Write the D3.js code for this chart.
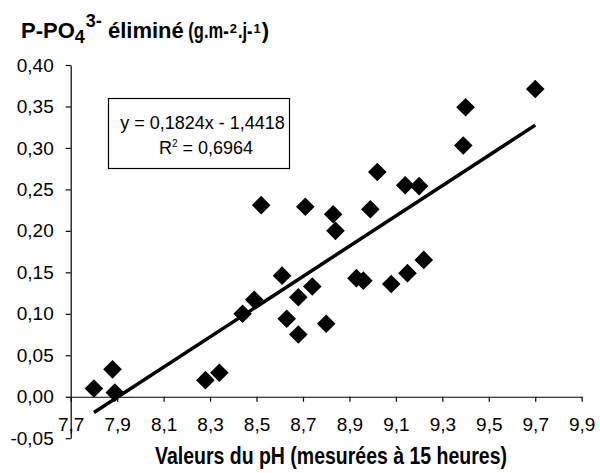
<!DOCTYPE html>
<html>
<head>
<meta charset="utf-8">
<script src="https://cdn.jsdelivr.net/npm/d3@7"></script>
<style>
  html, body { margin: 0; padding: 0; background: #fff; }
  svg { display: block; font-family: "Liberation Sans", Arial, Helvetica, sans-serif; }
</style>
</head>
<body>
<svg id="chart" width="600" height="473"></svg>
<script>
// ---- data ----
const phValues = [7.80, 7.88, 7.89, 8.28, 8.34, 8.44, 8.49, 8.52, 8.61, 8.63,
                  8.68, 8.68, 8.71, 8.74, 8.80, 8.83, 8.84, 8.93, 8.96, 8.99,
                  9.02, 9.08, 9.14, 9.15, 9.20, 9.22, 9.39, 9.40, 9.70];
const pRemoved = [0.010, 0.033, 0.005, 0.020, 0.029, 0.100, 0.117, 0.231, 0.146, 0.094,
                  0.120, 0.075, 0.229, 0.133, 0.088, 0.220, 0.200, 0.143, 0.140, 0.226,
                  0.271, 0.136, 0.255, 0.149, 0.254, 0.165, 0.303, 0.349, 0.371];
const trendSlope = 0.1824;
const trendIntercept = -1.4418;
const equationText = "y = 0,1824x - 1,4418";
const r2Value = "0,6964";
const xTickValues = [7.7, 7.9, 8.1, 8.3, 8.5, 8.7, 8.9, 9.1, 9.3, 9.5, 9.7, 9.9];
const xTickLabels = ["7,7", "7,9", "8,1", "8,3", "8,5", "8,7", "8,9", "9,1", "9,3", "9,5", "9,7", "9,9"];
const yTickValues = [-0.05, 0, 0.05, 0.10, 0.15, 0.20, 0.25, 0.30, 0.35, 0.40];
const yTickLabels = ["-0,05", "0,00", "0,05", "0,10", "0,15", "0,20", "0,25", "0,30", "0,35", "0,40"];
const xAxisTitle = "Valeurs du pH (mesurées à 15 heures)";
// title pieces: text, font size, baseline shift, horizontal squeeze
const titlePieces = [
  { t: "P-PO", fs: 22, dy: 0, sq: 1 },
  { t: "4", fs: 18, dy: 5, sq: 1 },
  { t: "3-", fs: 18, dy: -11, sq: 1, gap: 1 },
  { t: " éliminé", fs: 22, dy: 0, sq: 1 },
  { t: " (g.m-", fs: 22, dy: 0, sq: 0.75 },
  { t: "2", fs: 13, dy: -4.5, sq: 1, gap: 1 },
  { t: ".j-", fs: 22, dy: 0, sq: 0.75, gap: 1 },
  { t: "1", fs: 13, dy: -4.5, sq: 1, gap: 1 },
  { t: ")", fs: 22, dy: 0, sq: 1, gap: 1 }
];

// ---- layout ----
const svg = d3.select("#chart");
const x = d3.scaleLinear().domain([7.7, 9.9]).range([70.7, 581.7]);
const y = d3.scaleLinear().domain([-0.05, 0.40]).range([438.2, 65]);

// y axis
const yAxis = d3.axisLeft(y)
  .tickValues(yTickValues)
  .tickFormat((d, i) => yTickLabels[i])
  .tickSize(5).tickSizeOuter(0).tickPadding(12);
const gy = svg.append("g").attr("transform", `translate(${x(7.7)},0)`).call(yAxis);
gy.selectAll("text").attr("font-size", 19).attr("fill", "#000")
  .attr("font-family", '"Liberation Sans", Arial, sans-serif');
gy.select(".domain").attr("stroke", "#000").attr("stroke-width", 1.2);
gy.selectAll(".tick line").attr("stroke", "#000").attr("stroke-width", 1.2);

// x axis at y = 0
const xAxis = d3.axisBottom(x)
  .tickValues(xTickValues)
  .tickFormat((d, i) => xTickLabels[i])
  .tickSize(5).tickSizeOuter(0).tickPadding(16);
const gx = svg.append("g").attr("transform", `translate(0,${y(0)})`).call(xAxis);
gx.selectAll("text").attr("font-size", 19).attr("fill", "#000")
  .attr("font-family", '"Liberation Sans", Arial, sans-serif');
gx.select(".domain").attr("stroke", "#000").attr("stroke-width", 1.2);
gx.selectAll(".tick line").attr("stroke", "#000").attr("stroke-width", 1.2);

// data points (diamonds)
const pts = phValues.map((v, i) => ({ x: v, y: pRemoved[i] }));
const r = 9.3;
svg.append("g").selectAll("path.pt").data(pts).join("path")
  .attr("class", "pt")
  .attr("d", d => {
    const cx = x(d.x), cy = y(d.y);
    return `M${cx},${cy - r}L${cx + r},${cy}L${cx},${cy + r}L${cx - r},${cy}Z`;
  })
  .attr("fill", "#000");

// linear trendline over data extent
const [xMin, xMax] = d3.extent(phValues);
const trend = [xMin, xMax].map(v => ({ x: v, y: trendSlope * v + trendIntercept }));
svg.append("path")
  .datum(trend)
  .attr("d", d3.line().x(d => x(d.x)).y(d => y(d.y)))
  .attr("stroke", "#000").attr("stroke-width", 3.5).attr("fill", "none");

// equation box
svg.append("rect")
  .attr("x", 108.5).attr("y", 98.5).attr("width", 181).attr("height", 70)
  .attr("fill", "#fff").attr("stroke", "#000").attr("stroke-width", 1.2);
svg.append("text")
  .attr("x", 202.5).attr("y", 128.5).attr("text-anchor", "middle")
  .attr("font-size", 18).attr("fill", "#000")
  .text(equationText);
const r2 = svg.append("text")
  .attr("x", 206).attr("y", 153.5).attr("text-anchor", "middle")
  .attr("font-size", 18).attr("fill", "#000");
r2.append("tspan").text("R");
r2.append("tspan").attr("font-size", 10).attr("dy", -7).text("2");
r2.append("tspan").attr("dy", 7).text(" = " + r2Value);

// chart title (y-axis title at top), built from chained pieces
const titleG = svg.append("g").attr("font-weight", "bold").attr("fill", "#000");
let cursor = 21;
const baseY = 37.7;
titlePieces.forEach(p => {
  cursor += (p.gap || 0);
  const el = titleG.append("text")
    .attr("x", 0).attr("y", 0)
    .attr("transform", `translate(${cursor},${baseY + p.dy}) scale(${p.sq},1)`)
    .attr("font-size", p.fs)
    .attr("xml:space", "preserve")
    .style("white-space", "pre")
    .text(p.t);
  cursor += el.node().getComputedTextLength() * p.sq;
});

// x axis title
svg.append("text")
  .attr("x", 331).attr("y", 464).attr("text-anchor", "middle")
  .attr("font-size", 24).attr("font-weight", "bold").attr("fill", "#000")
  .attr("textLength", 352).attr("lengthAdjust", "spacingAndGlyphs")
  .text(xAxisTitle);
</script>
</body>
</html>
